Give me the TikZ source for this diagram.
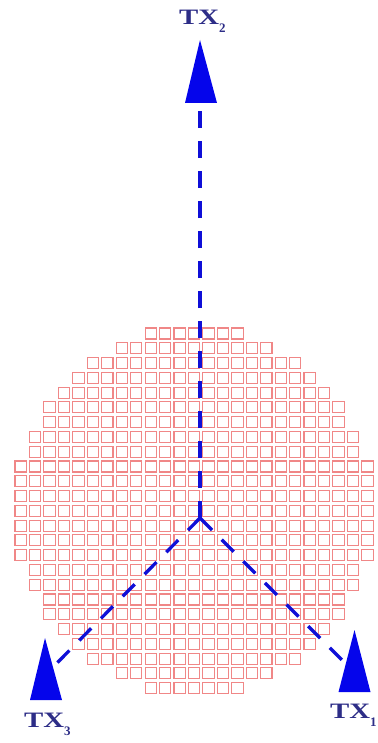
\documentclass[tikz,border=0pt]{standalone}
\usepackage{fontspec}
\setmainfont{Liberation Serif}
\usepackage{graphicx}
\usetikzlibrary{calc, positioning}

\definecolor{cellred}{RGB}{240,135,135}
\definecolor{beamblue}{RGB}{15,15,215}
\definecolor{txblue}{RGB}{5,5,235}
\definecolor{txnavy}{RGB}{45,45,135}

\newcommand{\txname}[1]{\scalebox{1.31}[1]{TX}\raisebox{-8pt}{\fontsize{13}{13}\selectfont #1}}

\tikzset{
  cell/.style={draw=cellred, line width=1.1pt, fill=white},
  beam/.style={draw=beamblue, line width=3.3pt, dash pattern=on 17pt off 13pt},
  txlabel/.style={inner sep=0pt, anchor=base west, text=txnavy, font=\fontsize{22}{22}\selectfont\bfseries},
}

\begin{document}
\begin{tikzpicture}[x=1pt, y=-1pt]
  \useasboundingbox (0,0) rectangle (377,743);
  % circular array of cells, half-width per row
  \foreach \h [count=\r from 0] in {3,5,7,8,9,10,10,11,11,12,12,12,12,12,12,12,11,11,10,10,9,8,7,5,3}
    \foreach \c in {-\h,...,\h}
      \draw[cell] ({188.4+\c*14.45}, {328+\r*14.78}) rectangle ++(11.3,11);
  % antennas
  \coordinate (hub) at (200,518);
  \coordinate (tx1) at (354.5,692);
  \coordinate (tx2) at (201,103);
  \coordinate (tx3) at (46,700);
  \fill[txblue] (tx1) ++(-16,0) -- ++(16,-62) -- ++(16,62) -- cycle;
  \fill[txblue] (tx2) ++(-16,0) -- ++(15,-63) -- ++(17,63) -- cycle;
  \fill[txblue] (tx3) ++(-16,0) -- ++(15,-62) -- ++(17,62) -- cycle;
  \coordinate (end1) at (342,660);
  \coordinate (end2) at (200,109);
  \coordinate (end3) at (57,663);
  \draw[beam] (hub) -- (end2);
  \draw[beam, dash pattern=on 17pt off 13.6pt] (hub) -- (end1);
  \draw[beam, dash pattern=on 17pt off 14pt] (hub) -- (end3);
  \node[txlabel] (lab1) at (330,718) {\txname{1}};
  \node[txlabel] (lab2) at (179,25) {\txname{2}};
  \node[txlabel] (lab3) at (24,727) {\txname{3}};
\end{tikzpicture}
\end{document}
